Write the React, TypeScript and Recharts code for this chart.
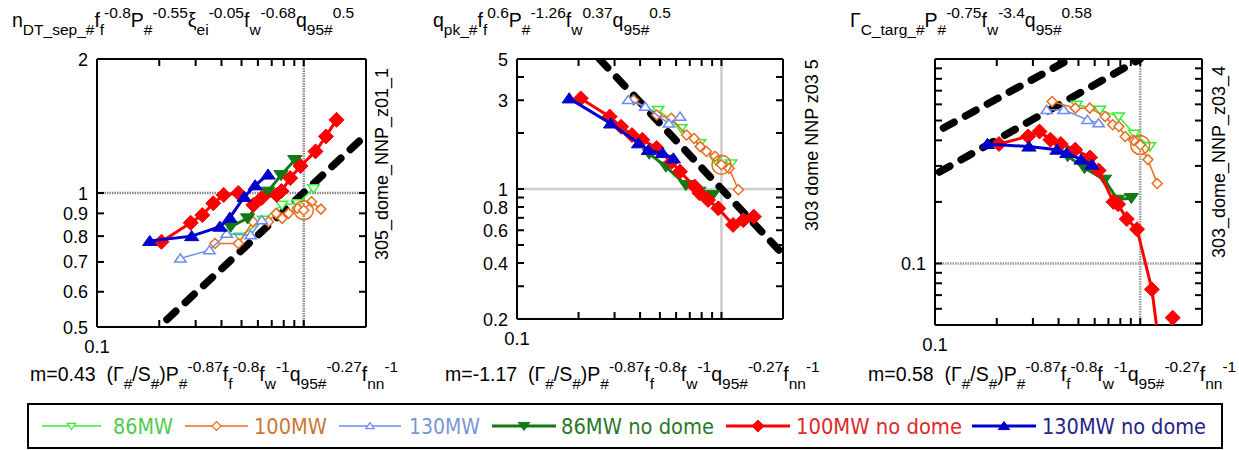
import React from 'react';
import { ScatterChart, Scatter, XAxis, YAxis, ReferenceLine } from 'recharts';

const FONT = '"Liberation Sans", Arial, Helvetica, sans-serif';
const NARROW = '"Liberation Sans Narrow", "DejaVu Sans Condensed", "Liberation Sans", sans-serif';

// abscissa (same quantity in all three panels), one array per case
const x86 = [0.49, 0.636, 0.785, 0.935, 1.115];
const x100 = [0.372, 0.483, 0.568, 0.675, 0.735, 0.787, 0.845, 0.93, 1.0, 1.09, 1.21];
const x130 = [0.253, 0.35, 0.424, 0.553, 0.627];
const x86nd = [0.443, 0.535, 0.67, 0.776, 0.905];
const x100nd = [0.205, 0.284, 0.323, 0.365, 0.41, 0.482, 0.57, 0.627, 0.74, 0.78, 0.86, 0.965, 1.14, 1.28, 1.44];
const x130nd = [0.18, 0.287, 0.393, 0.439, 0.515, 0.582, 0.672];

// panel 1: n_DT_sep
const n86 = [0.797, 0.87, 0.94, 0.948, 1.024];
const n100 = [0.77, 0.77, 0.862, 0.862, 0.9, 0.877, 0.9, 0.924, 0.915, 0.956, 0.92];
const n130 = [0.713, 0.744, 0.81, 0.804, 0.869];
const n86nd = [0.84, 0.877, 1.007, 1.097, 1.186];
const n100nd = [0.777, 0.857, 0.892, 0.948, 0.99, 1.0, 0.94, 0.975, 0.99, 1.01, 1.08, 1.15, 1.24, 1.34, 1.46];
const n130nd = [0.78, 0.8, 0.84, 0.88, 0.98, 1.04, 1.1];
const nFit = [[0.218, 0.52], [2.0, 1.35]];

// panel 2: q_pk
const q86 = [2.66, 2.12, 1.76, 1.43, 1.37];
const q100 = [3.01, 2.5, 2.4, 1.95, 1.87, 1.69, 1.59, 1.5, 1.35, 1.29, 0.99];
const q130 = [null, 3.01, 2.77, 2.25, 2.45];
const q86nd = [1.55, 1.32, 1.05, 0.968, 0.929];
const q100nd = [3.07, 2.45, 2.16, 1.95, 1.84, 1.66, 1.4, 1.24, 1.03, 0.95, 0.873, 0.787, 0.641, 0.68, 0.71];
const q130nd = [3.07, 2.25, 1.76, 1.62, 1.56, 1.46, null];
const qFit = [[0.253, 5.0], [2.0, 0.445]];

// panel 3: Gamma_C_targ
const g86 = [0.597, 0.564, 0.523, 0.43, 0.374];
const g100 = [0.619, 0.575, 0.575, 0.523, 0.477, 0.468, 0.418, 0.4, 0.38, 0.322, 0.246];
const g130 = [null, 0.564, 0.564, 0.504, 0.485];
const g86nd = [0.335, 0.293, 0.257, 0.205, 0.209];
const g100nd = [0.384, 0.418, 0.442, 0.403, 0.384, 0.36, 0.33, 0.285, 0.2, 0.195, 0.165, 0.147, 0.0747, 0.03, 0.0543];
const g130nd = [0.384, 0.373, 0.36, 0.347, 0.322, 0.304, null];
const gFitLow = [[0.105, 0.28], [1.0, 1.0]];
const gFitHigh = [[0.11, 0.46], [0.455, 1.0]];

// circled reference case (100MW, x = 1)
const refY = [0.915, 1.35, 0.38];

const xTicks = [0.1, 0.2, 0.3, 0.4, 0.5, 0.6, 0.7, 0.8, 0.9, 1, 2];
const xLabels = [0.1];

const pts = (xs: number[], ys: (number | null)[]) =>
  xs.map((x, i) => ({ x, y: ys[i] })).filter((p) => p.y != null);
const line = (p: number[][]) => p.map(([x, y]) => ({ x, y }));

const C86 = '#33ee33';
const C100 = '#ee6a1c';
const C130 = '#6b8cf0';
const C86N = '#137a13';
const C100N = '#ff0000';
const C130N = '#0000cc';

type Kind = 'up' | 'down' | 'diamond' | 'circle';

function Mark({ kind, cx, cy, s, fill, stroke, sw }: any) {
  if (kind === 'circle') return <circle cx={cx} cy={cy} r={s} fill={fill} stroke={stroke} strokeWidth={sw} />;
  let p = '';
  if (kind === 'up') p = `${cx},${cy - s * 0.75} ${cx - s * 0.95},${cy + s * 0.6} ${cx + s * 0.95},${cy + s * 0.6}`;
  if (kind === 'down') p = `${cx},${cy + s * 0.75} ${cx - s * 0.95},${cy - s * 0.6} ${cx + s * 0.95},${cy - s * 0.6}`;
  if (kind === 'diamond') p = `${cx},${cy - s} ${cx + s},${cy} ${cx},${cy + s} ${cx - s},${cy}`;
  return <polygon points={p} fill={fill} stroke={stroke} strokeWidth={sw} strokeLinejoin="miter" />;
}

const shape = (kind: Kind, s: number, color: string, filled: boolean) => (props: any) => {
  const { cx, cy } = props;
  if (cx == null || cy == null) return <g />;
  return <Mark kind={kind} cx={cx} cy={cy} s={s} fill={filled ? color : '#fff'} stroke={color} sw={filled ? 1 : 1.5} />;
};
const none = () => <g />;

interface Panel {
  box: [number, number, number, number];
  yDomain: [number, number];
  yTicks: number[];
  yLabels: number[];
  grid: { x: number; y: number; stroke: string; width: number; dash?: string };
  series: { data: { x: number; y: number | null }[]; kind: Kind; color: string; filled: boolean }[];
  fits: { x: number; y: number }[][];
  ref: number;
}

const panels: Panel[] = [
  {
    box: [97, 59, 366, 327],
    yDomain: [0.5, 2],
    yTicks: [0.5, 0.6, 0.7, 0.8, 0.9, 1, 2],
    yLabels: [0.5, 0.6, 0.7, 0.8, 0.9, 1, 2],
    grid: { x: 1, y: 1, stroke: '#8a8a8a', width: 2.5, dash: '1.5 1' },
    series: [
      { data: pts(x86, n86), kind: 'down', color: C86, filled: false },
      { data: pts(x100, n100), kind: 'diamond', color: C100, filled: false },
      { data: pts(x130, n130), kind: 'up', color: C130, filled: false },
      { data: pts(x86nd, n86nd), kind: 'down', color: C86N, filled: true },
      { data: pts(x100nd, n100nd), kind: 'diamond', color: C100N, filled: true },
      { data: pts(x130nd, n130nd), kind: 'up', color: C130N, filled: true },
    ],
    fits: [line(nFit)],
    ref: refY[0],
  },
  {
    box: [517, 59, 783, 319],
    yDomain: [0.2, 5],
    yTicks: [0.2, 0.3, 0.4, 0.5, 0.6, 0.7, 0.8, 0.9, 1, 2, 3, 4, 5],
    yLabels: [0.2, 0.4, 0.6, 0.8, 1, 3, 5],
    grid: { x: 1, y: 1, stroke: '#cccccc', width: 2.5 },
    series: [
      { data: pts(x86, q86), kind: 'down', color: C86, filled: false },
      { data: pts(x100, q100), kind: 'diamond', color: C100, filled: false },
      { data: pts(x130, q130), kind: 'up', color: C130, filled: false },
      { data: pts(x86nd, q86nd), kind: 'down', color: C86N, filled: true },
      { data: pts(x100nd, q100nd), kind: 'diamond', color: C100N, filled: true },
      { data: pts(x130nd, q130nd), kind: 'up', color: C130N, filled: true },
    ],
    fits: [line(qFit)],
    ref: refY[1],
  },
  {
    box: [935, 59, 1202, 325],
    yDomain: [0.05, 1],
    yTicks: [0.05, 0.06, 0.07, 0.08, 0.09, 0.1, 0.2, 0.3, 0.4, 0.5, 0.6, 0.7, 0.8, 0.9, 1],
    yLabels: [0.1],
    grid: { x: 1, y: 0.1, stroke: '#999999', width: 2.5, dash: '1.5 1' },
    series: [
      { data: pts(x86, g86), kind: 'down', color: C86, filled: false },
      { data: pts(x100, g100), kind: 'diamond', color: C100, filled: false },
      { data: pts(x130, g130), kind: 'up', color: C130, filled: false },
      { data: pts(x86nd, g86nd), kind: 'down', color: C86N, filled: true },
      { data: pts(x100nd, g100nd), kind: 'diamond', color: C100N, filled: true },
      { data: pts(x130nd, g130nd), kind: 'up', color: C130N, filled: true },
    ],
    fits: [line(gFitLow), line(gFitHigh)],
    ref: refY[2],
  },
];

const TICK = 7;
const fmt = (v: number) => String(v);

const bottomTick = (p: any) => (
  <g>
    <line x1={p.x} x2={p.x} y1={p.y} y2={p.y - TICK} stroke="#000" strokeWidth={2} />
    {xLabels.includes(p.payload.value) && (
      <text x={p.x} y={p.y + 26} textAnchor="middle" fontSize={18.5} fontFamily={FONT} fill="#000">
        {fmt(p.payload.value)}
      </text>
    )}
  </g>
);
const topTick = (p: any) => <line x1={p.x} x2={p.x} y1={p.y} y2={p.y + TICK} stroke="#000" strokeWidth={2} />;
const leftTick = (labels: number[]) => (p: any) => (
  <g>
    <line x1={p.x} x2={p.x + TICK} y1={p.y} y2={p.y} stroke="#000" strokeWidth={2} />
    {labels.includes(p.payload.value) && (
      <text x={p.x - 9} y={p.y + 6.5} textAnchor="end" fontSize={18} fontFamily={FONT} fill="#000">
        {fmt(p.payload.value)}
      </text>
    )}
  </g>
);
const rightTick = (p: any) => <line x1={p.x} x2={p.x - TICK} y1={p.y} y2={p.y} stroke="#000" strokeWidth={2} />;

const W = 1239;
const H = 390;

function PanelChart({ cfg }: { cfg: Panel }) {
  const [x0, y0, x1, y1] = cfg.box;
  const axisLine = { stroke: '#000', strokeWidth: 2 };
  const common = { type: 'number' as const, scale: 'log' as const, allowDataOverflow: true, tickSize: 0, tickMargin: 0, tickLine: false, interval: 0 as const, axisLine };
  const filledSz = { up: 7.5, down: 7.5, diamond: 7.5, circle: 9 };
  const hollowSz = { up: 6, down: 6, diamond: 5, circle: 9 };
  // axes are 1px thick, so the margins leave one pixel for each of them
  return (
    <div style={{ position: 'absolute', left: 0, top: 0 }}>
      <ScatterChart width={W} height={H} margin={{ left: x0 - 1, top: y0 - 1, right: W - x1 - 1, bottom: H - y1 - 1 }}>
        <XAxis {...common} xAxisId="b" dataKey="x" orientation="bottom" domain={[0.1, 2]} ticks={xTicks} height={1} tick={bottomTick} />
        <XAxis {...common} xAxisId="t" dataKey="x" orientation="top" domain={[0.1, 2]} ticks={xTicks} height={1} tick={topTick} />
        <YAxis {...common} yAxisId="l" dataKey="y" orientation="left" domain={cfg.yDomain} ticks={cfg.yTicks} width={1} tick={leftTick(cfg.yLabels)} />
        <YAxis {...common} yAxisId="r" dataKey="y" orientation="right" domain={cfg.yDomain} ticks={cfg.yTicks} width={1} tick={rightTick} />
        <ReferenceLine xAxisId="b" yAxisId="l" x={cfg.grid.x} stroke={cfg.grid.stroke} strokeWidth={cfg.grid.width} strokeDasharray={cfg.grid.dash} />
        <ReferenceLine xAxisId="b" yAxisId="l" y={cfg.grid.y} stroke={cfg.grid.stroke} strokeWidth={cfg.grid.width} strokeDasharray={cfg.grid.dash} />
        {cfg.fits.map((f, i) => (
          <Scatter
            key={'fit' + i}
            xAxisId="b"
            yAxisId="l"
            data={f}
            fill="#000"
            shape={none}
            line={{ stroke: '#000', strokeWidth: 7.5, strokeDasharray: '12 13', strokeLinecap: 'round' }}
            isAnimationActive={false}
          />
        ))}
        {cfg.series.map((s, i) => (
          <Scatter
            key={'s' + i}
            xAxisId="b"
            yAxisId="l"
            data={s.data}
            fill={s.color}
            shape={shape(s.kind, s.filled ? filledSz[s.kind] : hollowSz[s.kind], s.color, s.filled)}
            line={{ stroke: s.color, strokeWidth: s.filled ? 3 : 1.5 }}
            isAnimationActive={false}
          />
        ))}
        <Scatter
          xAxisId="b"
          yAxisId="l"
          data={[{ x: 1.0, y: cfg.ref }]}
          fill={C100}
          shape={(p: any) => <circle cx={p.cx} cy={p.cy} r={9.5} fill="none" stroke={C100} strokeWidth={1.5} />}
          isAnimationActive={false}
        />
      </ScatterChart>
    </div>
  );
}

type Seg = [string, number];
function Rich({ x, y, segs }: { x: number; y: number; segs: Seg[] }) {
  let cur = 0;
  return (
    <text x={x} y={y} fontSize={19.5} fontFamily={FONT} fill="#000" style={{ whiteSpace: 'pre' }}>
      {segs.map(([t, k], i) => {
        const target = k === 1 ? 8 : k === -1 ? -9 : 0;
        const dy = target - cur;
        cur = target;
        return (
          <tspan key={i} dy={dy} fontSize={k ? 15.5 : 19.5}>
            {t}
          </tspan>
        );
      })}
    </text>
  );
}

const title1: Seg[] = [['n', 0], ['DT_sep_#', 1], ['f', 0], ['f', 1], ['-0.8', -1], ['P', 0], ['#', 1], ['-0.55', -1], ['ξ', 0], ['ei', 1], ['-0.05', -1], ['f', 0], ['w', 1], ['-0.68', -1], ['q', 0], ['95#', 1], ['0.5', -1]];
const title2: Seg[] = [['q', 0], ['pk_#', 1], ['f', 0], ['f', 1], ['0.6', -1], ['P', 0], ['#', 1], ['-1.26', -1], ['f', 0], ['w', 1], ['0.37', -1], ['q', 0], ['95#', 1], ['0.5', -1]];
const title3: Seg[] = [['Γ', 0], ['C_targ_#', 1], ['P', 0], ['#', 1], ['-0.75', -1], ['f', 0], ['w', 1], ['-3.4', -1], ['q', 0], ['95#', 1], ['0.58', -1]];
const xLabel = (m: string): Seg[] => [[`m=${m}  (Γ`, 0], ['#', 1], ['/S', 0], ['#', 1], [')P', 0], ['#', 1], ['-0.87', -1], ['f', 0], ['f', 1], ['-0.8', -1], ['f', 0], ['w', 1], ['-1', -1], ['q', 0], ['95#', 1], ['-0.27', -1], ['f', 0], ['nn', 1], ['-1', -1]];
const slopes = ['0.43', '-1.17', '0.58'];
const runIds = ['305_dome_NNP_z01_1', '303 dome NNP z03 5', '303_dome_NNP_z03_4'];

const legendNames = ['86MW', '100MW', '130MW', '86MW no dome', '100MW no dome', '130MW no dome'];
const legendKinds: Kind[] = ['down', 'diamond', 'up', 'down', 'diamond', 'up'];
const legendColors = [C86, C100, C130, C86N, C100N, C130N];
const legendText = ['#4ccc4c', '#cc7733', '#7797d8', '#2a772a', '#dd2a2a', '#24248a'];
const legendX = [[42, 101, 113, 60], [185, 248, 254, 73], [339, 401, 409, 71], [492, 556, 561, 153], [726, 790, 796, 166], [972, 1036, 1042, 164]];

function Overlay() {
  return (
    <svg width={1239} height={450} style={{ position: 'absolute', left: 0, top: 0, pointerEvents: 'none' }}>
      <Rich x={12} y={27} segs={title1} />
      <Rich x={433} y={27} segs={title2} />
      <Rich x={850} y={27} segs={title3} />
      <Rich x={30} y={381} segs={xLabel(slopes[0])} />
      <Rich x={445} y={381} segs={xLabel(slopes[1])} />
      <Rich x={868} y={381} segs={xLabel(slopes[2])} />
      {[
        [388, 164],
        [818, 145],
        [1225, 162],
      ].map(([x, y], i) => (
        <text key={i} transform={`translate(${x},${y}) rotate(-90)`} textAnchor="middle" fontSize={18} fontFamily={FONT} fill="#000">
          {runIds[i]}
        </text>
      ))}
      <rect x={28} y={404} width={1194} height={44} fill="#fff" stroke="#000" strokeWidth={2} />
      {legendNames.map((name, i) => {
        const [l0, l1, tx, tw] = legendX[i];
        const filled = i >= 3;
        const cy = 426;
        return (
          <g key={name}>
            <line x1={l0} x2={l1} y1={cy} y2={cy} stroke={legendColors[i]} strokeWidth={filled ? 3 : 1.5} />
            <Mark kind={legendKinds[i]} cx={(l0 + l1) / 2} cy={cy} s={filled ? 6 : 4.5} fill={filled ? legendColors[i] : '#fff'} stroke={legendColors[i]} sw={filled ? 1 : 1.2} />
            <text x={tx} y={cy + 8} fontSize={22} fontFamily={NARROW} fill={legendText[i]} textLength={tw} lengthAdjust="spacingAndGlyphs">
              {name}
            </text>
          </g>
        );
      })}
    </svg>
  );
}

export default function App() {
  return (
    <div style={{ position: 'absolute', left: 0, top: 0, width: 1239, height: 450, background: '#fff', overflow: 'hidden' }}>
      {panels.map((p, i) => (
        <PanelChart key={i} cfg={p} />
      ))}
      <Overlay />
    </div>
  );
}
